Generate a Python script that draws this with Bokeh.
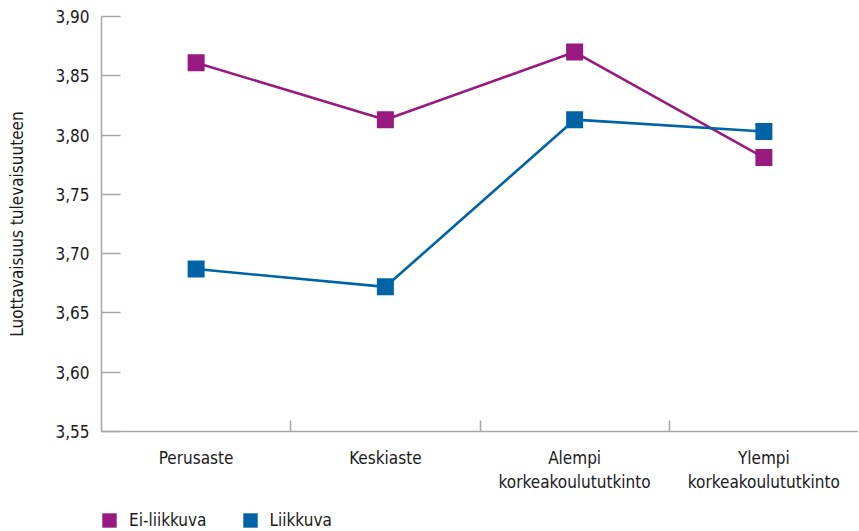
from bokeh.plotting import figure
from bokeh.layouts import column
from bokeh.models import Range1d, FixedTicker, CustomJSTickFormatter, Legend, LegendItem
from bokeh.embed import file_html
from bokeh.resources import INLINE

categories = ["Perusaste", "Keskiaste", "Alempi\nkorkeakoulututkinto", "Ylempi\nkorkeakoulututkinto"]
ei_liikkuva = [3.861, 3.813, 3.870, 3.781]
liikkuva = [3.687, 3.672, 3.813, 3.803]
y_ticks = [3.55, 3.60, 3.65, 3.70, 3.75, 3.80, 3.85, 3.90]
series_names = ["Ei-liikkuva", "Liikkuva"]
colors = ["#98197f", "#0063a6"]

FONT = "DejaVu Sans Condensed"
AXIS_COL = "#a6a6a6"
TXT = "#1a1a1a"
W = 858

xpos = [i + 0.5 for i in range(len(categories))]

p = figure(width=W, height=500, output_backend="svg", toolbar_location=None,
           x_range=Range1d(0, len(categories)), y_range=Range1d(y_ticks[0], y_ticks[-1]),
           min_border_left=101, min_border_right=0, min_border_top=16, min_border_bottom=69)
p.outline_line_color = None
p.xgrid.grid_line_color = None
p.ygrid.grid_line_color = None

for name, vals, col in zip(series_names, [ei_liikkuva, liikkuva], colors):
    p.line(xpos, vals, line_color=col, line_width=2.6)
    p.scatter(xpos, vals, marker="square", size=17, fill_color=col, line_color=None)

# y axis
ya = p.yaxis[0]
ya.ticker = FixedTicker(ticks=y_ticks, minor_ticks=[])
ya.formatter = CustomJSTickFormatter(code="return tick.toFixed(2).replace('.', ',');")
ya.major_tick_in = 19
ya.major_tick_out = 0
ya.minor_tick_line_color = None
ya.axis_line_color = AXIS_COL
ya.axis_line_width = 1.5
ya.major_tick_line_color = AXIS_COL
ya.major_tick_line_width = 1.5
ya.major_label_standoff = 12
ya.major_label_text_font = FONT
ya.major_label_text_font_size = "17px"
ya.major_label_text_color = TXT
ya.major_label_text_baseline = "top"
ya.axis_label = "Luottavaisuus tulevaisuuteen"
ya.axis_label_text_font = FONT
ya.axis_label_text_font_size = "17px"
ya.axis_label_text_font_style = "normal"
ya.axis_label_text_color = TXT
ya.axis_label_standoff = 25

# x axis
xa = p.xaxis[0]
xa.ticker = FixedTicker(ticks=xpos, minor_ticks=[i for i in range(1, len(categories))])
xa.major_label_overrides = {x: c for x, c in zip(xpos, categories)}
xa.major_tick_line_color = None
xa.minor_tick_in = 11
xa.minor_tick_out = 0
xa.minor_tick_line_color = AXIS_COL
xa.minor_tick_line_width = 1.5
xa.axis_line_color = AXIS_COL
xa.axis_line_width = 1.5
xa.major_label_standoff = 10
xa.major_label_text_font = FONT
xa.major_label_text_font_size = "17px"
xa.major_label_text_color = TXT
xa.major_label_text_align = "center"

# legend strip (separate figure under the chart)
lg = figure(width=W, height=31, output_backend="svg", toolbar_location=None,
            x_range=Range1d(0, 1), y_range=Range1d(0, 1),
            min_border_left=101, min_border_right=0, min_border_top=0, min_border_bottom=0)
lg.axis.visible = False
lg.grid.grid_line_color = None
lg.outline_line_color = None
items = []
for name, col in zip(series_names, colors):
    # swatch source placed outside the visible range; only the legend shows it
    r = lg.quad(left=[5], right=[6], top=[6], bottom=[5], fill_color=col, line_color=None)
    items.append(LegendItem(label=name, renderers=[r]))
legend = Legend(items=items, orientation="horizontal", location=(-1, 1),
                glyph_width=18, glyph_height=18, label_standoff=11, spacing=34,
                padding=0, margin=0, border_line_color=None, background_fill_alpha=0,
                label_text_font=FONT, label_text_font_size="17px", label_text_color=TXT)
lg.add_layout(legend, "center")

open("out.html", "w").write(file_html(column(p, lg, spacing=0), INLINE))
